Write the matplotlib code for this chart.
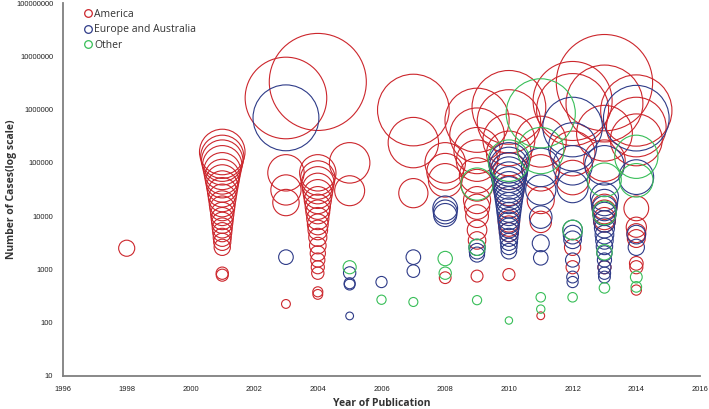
import matplotlib
matplotlib.use("Agg")
import matplotlib.pyplot as plt
from matplotlib.lines import Line2D
import numpy as np

# Year of publication / number of cases
america_year = [1998,
                2001, 2001, 2001, 2001, 2001, 2001, 2001, 2001, 2001, 2001, 2001,
                2001, 2001, 2001, 2001, 2001, 2001, 2001, 2001, 2001, 2001, 2001,
                2003, 2003, 2003, 2003, 2003,
                2004, 2004, 2004, 2004, 2004, 2004, 2004, 2004, 2004, 2004,
                2004, 2004, 2004, 2004, 2004, 2004, 2004, 2004, 2004, 2004,
                2005, 2005,
                2007, 2007, 2007,
                2008, 2008, 2008, 2008,
                2009, 2009, 2009, 2009, 2009, 2009, 2009, 2009, 2009, 2009, 2009, 2009,
                2010, 2010, 2010, 2010, 2010, 2010, 2010, 2010, 2010, 2010,
                2011, 2011, 2011, 2011, 2011,
                2012, 2012, 2012, 2012, 2012, 2012,
                2013, 2013, 2013, 2013, 2013, 2013, 2013, 2013, 2013,
                2014, 2014, 2014, 2014, 2014, 2014, 2014, 2014, 2014, 2014]
america_cases = [2500,
                 160000, 130000, 110000, 90000, 70000, 55000, 45000, 36000, 28000, 22000, 17000,
                 14000, 11000, 9000, 7500, 6000, 5000, 4000, 3300, 2600, 850, 780,
                 1650000, 65000, 31000, 18000, 225,
                 3300000, 65000, 52000, 42000, 33000, 26000, 20000, 15000, 12000, 9000,
                 7000, 5500, 4000, 2800, 2000, 1500, 1100, 850, 380, 340,
                 100000, 30000,
                 980000, 240000, 27000,
                 100000, 68000, 47000, 700,
                 630000, 330000, 170000, 110000, 58000, 38000, 20000, 15000, 10000, 5500, 3500, 750,
                 1100000, 600000, 270000, 150000, 70000, 30000, 8000, 6500, 5000, 800,
                 250000, 65000, 20000, 7800, 135,
                 1450000, 1000000, 150000, 53000, 2600, 1100,
                 3200000, 1300000, 360000, 110000, 15000, 12000, 9000, 8000, 1100,
                 960000, 470000, 270000, 14000, 6200, 4800, 3800, 1300, 1100, 410]

europe_year = [2003, 2003,
               2005, 2005, 2005, 2005,
               2006,
               2007, 2007,
               2008, 2008, 2008,
               2009, 2009, 2009,
               2010, 2010, 2010, 2010, 2010, 2010, 2010, 2010, 2010, 2010, 2010,
               2010, 2010, 2010, 2010, 2010, 2010, 2010, 2010, 2010, 2010,
               2011, 2011, 2011, 2011, 2011,
               2012, 2012, 2012, 2012, 2012, 2012, 2012, 2012, 2012, 2012,
               2013, 2013, 2013, 2013, 2013, 2013, 2013, 2013, 2013, 2013,
               2013, 2013, 2013, 2013, 2013,
               2014, 2014, 2014, 2014]
europe_cases = [700000, 1700,
                860, 550, 520, 134,
                580,
                1700, 930,
                14000, 12000, 10500,
                2600, 2200, 1900,
                100000, 85000, 70000, 60000, 50000, 42000, 35000, 29000, 24000, 20000, 16000,
                13000, 11000, 9000, 7500, 6000, 5000, 4000, 3300, 2700, 2200,
                82000, 31000, 9600, 3100, 1650,
                470000, 200000, 90000, 35000, 5500, 4500, 3600, 1500, 720, 580,
                90000, 23000, 18000, 14000, 11000, 8000, 6000, 4500, 3500, 2700,
                2000, 1500, 1100, 850, 720,
                690000, 54000, 4500, 2600]

other_year = [2005, 2006, 2007, 2008, 2008,
              2009, 2009, 2009,
              2010, 2010,
              2011, 2011, 2011, 2011,
              2012, 2012,
              2013, 2013, 2013, 2013,
              2014, 2014, 2014, 2014]
other_cases = [1100, 270, 245, 1600, 850,
               40000, 2600, 265,
               110000, 110,
               850000, 170000, 300, 180,
               5500, 300,
               48000, 11500, 2100, 450,
               130000, 47000, 720, 470]

region_names = ["America", "Europe and Australia", "Other"]
region_colors = ["#CC262C", "#2E3B88", "#38BE58"]

y_ticks = [10, 100, 1000, 10000, 100000, 1000000, 10000000, 100000000]
x_ticks = [1996, 1998, 2000, 2002, 2004, 2006, 2008, 2010, 2012, 2014, 2016]


def bubble_size(cases):
    # bubble radius (px) grows slowly with the case count
    r_px = 3.6 * (np.asarray(cases, dtype=float) / 100.0) ** 0.25
    return (2 * r_px * 0.72) ** 2


fig = plt.figure(figsize=(7.09, 4.09), dpi=100)
ax = fig.add_axes([63 / 709, 33 / 409, 637 / 709, 373 / 409])

series = [(america_year, america_cases), (europe_year, europe_cases), (other_year, other_cases)]
for (yrs, cases), name, col in zip(series, region_names, region_colors):
    ax.scatter(yrs, cases, s=bubble_size(cases), facecolors="none", edgecolors=col,
               linewidths=0.8, label=name, clip_on=False)

ax.set_yscale("log")
ax.set_ylim(10, 100000000)
ax.set_xlim(1996, 2016)
ax.set_yticks(y_ticks)
ax.set_yticklabels([str(v) for v in y_ticks], family="Liberation Sans")
ax.minorticks_off()
ax.set_xticks(x_ticks)
ax.set_xticklabels([str(v) for v in x_ticks], family="Liberation Sans")
ax.tick_params(length=0, labelsize=5.5, labelcolor="#222222")
ax.tick_params(axis="x", pad=7)
ax.tick_params(axis="y", pad=7)

for s in ["top", "right"]:
    ax.spines[s].set_visible(False)
for s in ["left", "bottom"]:
    ax.spines[s].set_color("#7f7f7f")
    ax.spines[s].set_linewidth(1.3)

ax.set_xlabel("Year of Publication", fontsize=7.5, fontweight="bold", family="Open Sans",
              color="#333333")
ax.set_ylabel("Number of Cases(log scale)", fontsize=7.5, fontweight="bold", family="Open Sans",
              color="#333333")
ax.xaxis.set_label_coords(0.5, -0.058)
ax.yaxis.set_label_coords(-0.072, 0.5)

handles = [Line2D([], [], linestyle="none", marker="o", markersize=5.5, markerfacecolor="none",
                  markeredgecolor=c, markeredgewidth=0.9) for c in region_colors]
ax.legend(handles, region_names, loc="upper left", bbox_to_anchor=(0.033, 0.985), frameon=False,
          handlelength=0.8, handletextpad=0.15, labelspacing=0.45, borderaxespad=0,
          borderpad=0, prop={"family": "Open Sans", "size": 7.5}, labelcolor="#333333")

fig.savefig("out.png", dpi=100)
